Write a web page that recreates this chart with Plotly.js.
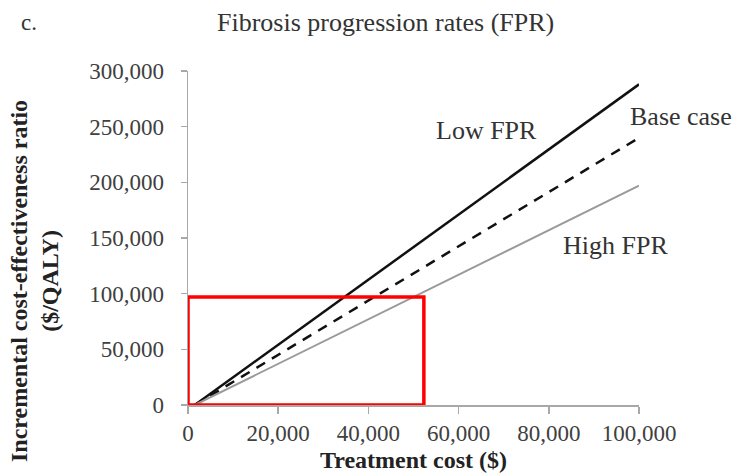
<!DOCTYPE html>
<html>
<head>
<meta charset="utf-8">
<script src="https://cdn.plot.ly/plotly-3.0.1.min.js"></script>
<style>html,body{margin:0;padding:0;background:#fff}#chart{width:742px;height:476px}</style>
</head>
<body>
<div id="chart"></div>
<script>
// Data
const treatmentCost = [1500, 20000, 40000, 60000, 80000, 100000];
const lowFPR  = [0, 54000, 112500, 171000, 229500, 288000];
const baseCase = [0, 45000, 94000, 143000, 191500, 240000];
const highFPR = [0, 37000, 77000, 117000, 157000, 197000];
const xTicks = [0, 20000, 40000, 60000, 80000, 100000];
const yTicks = [0, 50000, 100000, 150000, 200000, 250000, 300000];
const fmt = v => v.toLocaleString('en-US');
// Highlight box (cost threshold and WTP threshold)
const boxCost = 52300;
const boxICER = 97000;

const serif = 'Liberation Serif, Times New Roman, serif';

const traces = [
  {x: treatmentCost, y: lowFPR, mode: 'lines', name: 'Low FPR',
   line: {color: '#111111', width: 2.5}},
  {x: treatmentCost, y: baseCase, mode: 'lines', name: 'Base case',
   line: {color: '#111111', width: 2.5, dash: '10px,8px'}},
  {x: treatmentCost, y: highFPR, mode: 'lines', name: 'High FPR',
   line: {color: '#9a9a9a', width: 2}}
];

const px = p => (p - 188) / 451;
const py = p => (405 - p) / 334;

const layout = {
  width: 742, height: 476,
  margin: {l: 188, r: 103, t: 71, b: 71},
  paper_bgcolor: '#ffffff', plot_bgcolor: '#ffffff',
  showlegend: false,
  font: {family: serif, color: '#333333'},
  xaxis: {
    range: [0, 100000], tickvals: xTicks, ticktext: xTicks.map(fmt),
    showgrid: false, zeroline: false, showline: true, linecolor: '#a8a8a8', linewidth: 1.5,
    ticks: 'outside', ticklen: 7, tickcolor: '#a8a8a8', tickwidth: 1.5,
    tickfont: {family: serif, size: 23, color: '#404040'},
    title: {text: '<b>Treatment cost ($)</b>', font: {family: serif, size: 24, color: '#222222'}, standoff: 6}
  },
  yaxis: {
    range: [0, 300000], tickvals: yTicks, ticktext: yTicks.map(fmt),
    showgrid: false, zeroline: false, showline: true, linecolor: '#a8a8a8', linewidth: 1.5,
    ticks: 'outside', ticklen: 6, tickcolor: '#a8a8a8', tickwidth: 1.5,
    ticklabelstandoff: 12,
    tickfont: {family: serif, size: 23, color: '#404040'}
  },
  shapes: [
    {type: 'rect', xref: 'x', yref: 'y', x0: 0, x1: boxCost, y0: 0, y1: boxICER,
     line: {color: '#ff0000', width: 3.5}, fillcolor: 'rgba(0,0,0,0)'}
  ],
  annotations: [
    {xref: 'paper', yref: 'paper', x: px(34), y: py(281), textangle: -90,
     text: '<b>Incremental cost-effectiveness ratio<br>($/QALY)</b>',
     showarrow: false, xanchor: 'center', yanchor: 'middle', font: {family: serif, size: 24, color: '#222222'}},
    {xref: 'paper', yref: 'paper', x: px(385), y: py(22), text: 'Fibrosis progression rates (FPR)',
     showarrow: false, xanchor: 'center', yanchor: 'middle', font: {family: serif, size: 26, color: '#333333'}},
    {xref: 'paper', yref: 'paper', x: px(29), y: py(22), text: 'c.',
     showarrow: false, xanchor: 'center', yanchor: 'middle', font: {family: serif, size: 23, color: '#333333'}},
    {xref: 'paper', yref: 'paper', x: px(486), y: py(130), text: 'Low FPR', showarrow: false,
     xanchor: 'center', yanchor: 'middle', font: {family: serif, size: 26, color: '#333333'}},
    {xref: 'paper', yref: 'paper', x: px(681), y: py(116), text: 'Base case', showarrow: false,
     xanchor: 'center', yanchor: 'middle', font: {family: serif, size: 26, color: '#333333'}},
    {xref: 'paper', yref: 'paper', x: px(615), y: py(245), text: 'High FPR', showarrow: false,
     xanchor: 'center', yanchor: 'middle', font: {family: serif, size: 26, color: '#333333'}}
  ]
};

Plotly.newPlot('chart', traces, layout, {displayModeBar: false, staticPlot: true});
</script>
</body>
</html>
